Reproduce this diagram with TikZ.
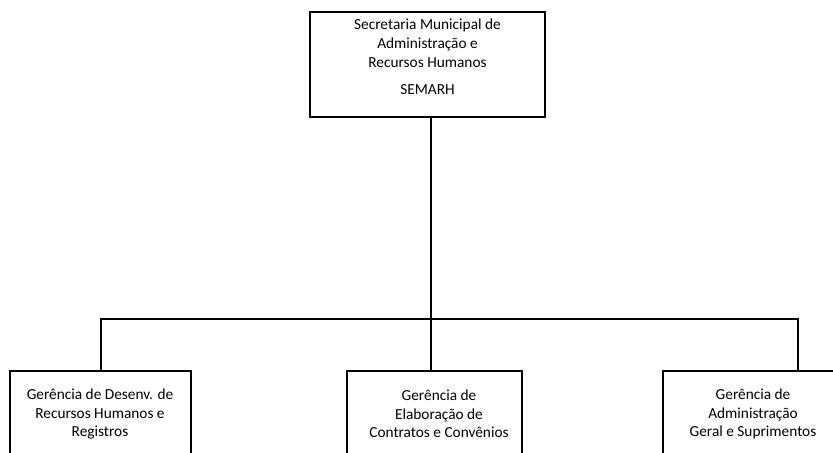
\documentclass[tikz,border=0pt]{standalone}
\usepackage{fontspec}
\setmainfont{Carlito}
\begin{document}
\begin{tikzpicture}[x=0.75pt,y=-0.75pt,
  box/.style={draw=black,line width=1.6pt,rectangle,inner sep=0pt},
  lbl/.style={align=center,font=\fontsize{11.5}{14}\selectfont,inner sep=0pt},
  conn/.style={draw=black,line width=1.5pt}]
\clip (0,0) rectangle (833,453);
% boxes
\node[box,minimum width=176.25pt,minimum height=78.75pt] (top) at (427.5,64.5) {};
\node[box,minimum width=135.75pt,minimum height=90pt] (b1) at (100.5,431) {};
\node[box,minimum width=131.25pt,minimum height=90pt] (b2) at (434.5,431) {};
\node[box,minimum width=135pt,minimum height=90pt] (b3) at (753,431) {};
% texts
\node[lbl] (ttop) at (427.5,57) {Secretaria Municipal de\\Administração e\\Recursos Humanos\\[6.75pt]SEMARH};
\node[lbl] (t1) at (100,414) {Gerência de Desenv. de\\Recursos Humanos e\\Registros};
\node[lbl] (t2) at (439,414) {Gerência de\\Elaboração de\\Contratos e Convênios};
\node[lbl] (t3) at (753,414) {Gerência de\\Administração\\Geral e Suprimentos};
% connectors
\coordinate (j) at (431,319);
\coordinate (r) at (798,319);
\draw[conn] (top.south -| j) -- (j);
\draw[conn] (j) -- (b2.north -| j);
\draw[conn] (b1.north) |- (r) -- (b3.north -| r);
\end{tikzpicture}
\end{document}
